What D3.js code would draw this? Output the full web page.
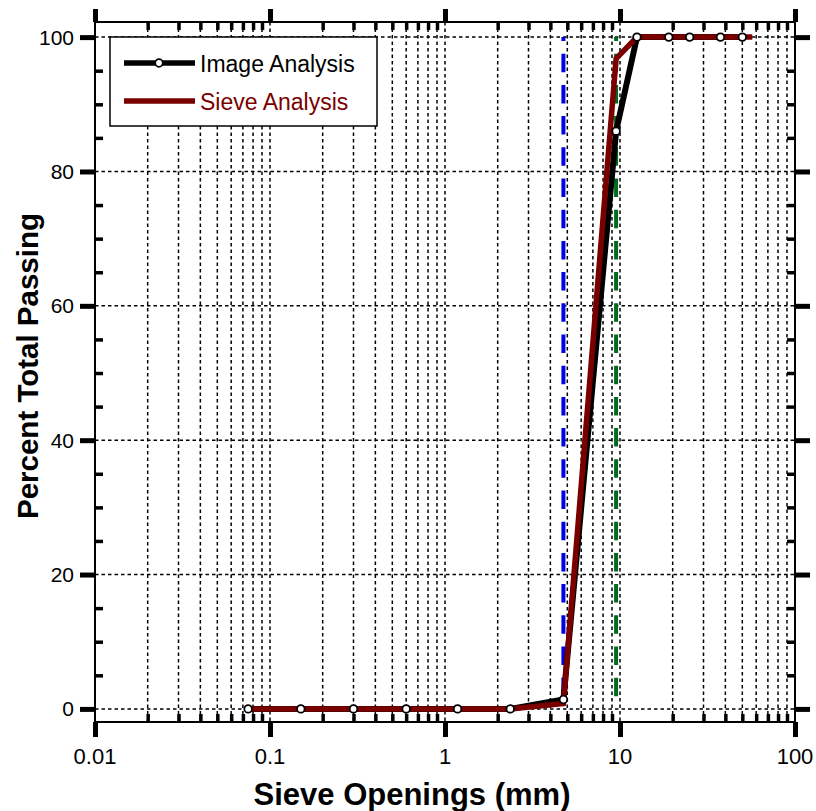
<!DOCTYPE html>
<html>
<head>
<meta charset="utf-8">
<script src="https://cdn.jsdelivr.net/npm/d3@7"></script>
<style>
  html, body { margin: 0; padding: 0; background: #fff; }
  svg { display: block; font-family: "Liberation Sans", Arial, sans-serif; }
</style>
</head>
<body>
<svg id="chart" width="816" height="811"></svg>
<script>
// ---- data ----
const imageSizes   = [0.075, 0.15, 0.3, 0.6, 1.18, 2.36, 4.75, 9.5, 12.5, 19, 25, 37.5, 50];
const imagePassing = [0, 0, 0, 0, 0, 0, 1.4, 86, 100, 100, 100, 100, 100];
const sieveSizes   = [0.075, 0.15, 0.3, 0.6, 1.18, 2.36, 4.75, 9.5, 12.5, 19, 25, 37.5, 50, 57];
const sievePassing = [0, 0, 0, 0, 0, 0, 0.8, 96.8, 100, 100, 100, 100, 100, 100];
const refSizes     = [4.75, 9.5];
const refColors    = ["#0000e6", "#006a1e"];
const xTickValues  = [0.01, 0.1, 1, 10, 100];
const xTickLabels  = ["0.01", "0.1", "1", "10", "100"];
const yTickValues  = [0, 20, 40, 60, 80, 100];
const yTickLabels  = ["0", "20", "40", "60", "80", "100"];
const seriesNames  = ["Image Analysis", "Sieve Analysis"];

// ---- layout ----
const L = 95, R = 795, T = 22, B = 722;
const svg = d3.select("#chart");
const x = d3.scaleLog().domain([0.01, 100]).range([L, R]);
const y = d3.scaleLinear().domain([-1.95, 102.25]).range([B, T]);

const minorX = [];
for (let d = 0.01; d < 100; d *= 10) for (let k = 2; k <= 9; k++) minorX.push(+(d * k).toPrecision(3));
const minorY = d3.range(0, 101, 5).filter(v => v % 20 !== 0);

// grid
const grid = svg.append("g").attr("stroke", "#000").attr("stroke-width", 1.5).attr("stroke-dasharray", "3.5,3");
grid.selectAll("line.v").data(xTickValues.concat(minorX)).join("line")
  .attr("x1", d => x(d)).attr("x2", d => x(d)).attr("y1", T).attr("y2", B);
grid.selectAll("line.h").data(yTickValues).join("line")
  .attr("x1", L).attr("x2", R).attr("y1", d => y(d)).attr("y2", d => y(d));

function styleAxis(g, w) {
  g.select(".domain").remove();
  g.selectAll(".tick line").attr("stroke", "#000").attr("stroke-width", w);
  g.selectAll(".tick text").remove();
}
// major ticks (outward)
svg.append("g").attr("transform", `translate(0,${B})`).call(d3.axisBottom(x).tickValues(xTickValues).tickSize(15)).call(g => styleAxis(g, 5));
svg.append("g").attr("transform", `translate(0,${T})`).call(d3.axisTop(x).tickValues(xTickValues).tickSize(13)).call(g => styleAxis(g, 5));
svg.append("g").attr("transform", `translate(${L},0)`).call(d3.axisLeft(y).tickValues(yTickValues).tickSize(15)).call(g => styleAxis(g, 5));
svg.append("g").attr("transform", `translate(${R},0)`).call(d3.axisRight(y).tickValues(yTickValues).tickSize(15)).call(g => styleAxis(g, 5));
// minor ticks (inward)
svg.append("g").attr("transform", `translate(0,${B})`).call(d3.axisTop(x).tickValues(minorX).tickSize(8)).call(g => styleAxis(g, 3.5));
svg.append("g").attr("transform", `translate(0,${T})`).call(d3.axisBottom(x).tickValues(minorX).tickSize(8)).call(g => styleAxis(g, 3.5));
svg.append("g").attr("transform", `translate(${L},0)`).call(d3.axisRight(y).tickValues(minorY).tickSize(8)).call(g => styleAxis(g, 3.5));
svg.append("g").attr("transform", `translate(${R},0)`).call(d3.axisLeft(y).tickValues(minorY).tickSize(8)).call(g => styleAxis(g, 3.5));

// frame
svg.append("rect").attr("x", L).attr("y", T).attr("width", R - L).attr("height", B - T)
  .attr("fill", "none").attr("stroke", "#000").attr("stroke-width", 2);

// tick labels
svg.append("g").selectAll("text").data(xTickValues).join("text")
  .attr("x", d => x(d)).attr("y", 764).attr("text-anchor", "middle")
  .attr("font-size", 22).text((d, i) => xTickLabels[i]);
svg.append("g").selectAll("text").data(yTickValues).join("text")
  .attr("x", 74).attr("y", d => y(d) + 7.5).attr("text-anchor", "end")
  .attr("font-size", 21).text((d, i) => yTickLabels[i]);

// axis titles
svg.append("text").attr("x", 412).attr("y", 805).attr("text-anchor", "middle")
  .attr("font-size", 31).attr("font-weight", "bold").text("Sieve Openings (mm)");
svg.append("text").attr("transform", `translate(38,366) rotate(-90)`).attr("text-anchor", "middle")
  .attr("font-size", 29.5).attr("font-weight", "bold").text("Percent Total Passing");

// reference dashed lines
svg.append("g").selectAll("line").data(refSizes).join("line")
  .attr("x1", d => x(d)).attr("x2", d => x(d))
  .attr("y1", y(0)).attr("y2", y(100))
  .attr("stroke", (d, i) => refColors[i]).attr("stroke-width", 4)
  .attr("stroke-dasharray", "18.5,12.7").attr("stroke-dashoffset", 18.5);

// series
const imgData = imageSizes.map((s, i) => [s, imagePassing[i]]);
const sieveData = sieveSizes.map((s, i) => [s, sievePassing[i]]);
const line = d3.line().x(d => x(d[0])).y(d => y(d[1]));
svg.append("path").datum(imgData).attr("d", line)
  .attr("fill", "none").attr("stroke", "#000").attr("stroke-width", 6).attr("stroke-linejoin", "miter");
svg.append("path").datum(sieveData).attr("d", line)
  .attr("fill", "none").attr("stroke", "#7a0000").attr("stroke-width", 5.5).attr("stroke-linejoin", "miter");
svg.append("g").selectAll("circle").data(imgData).join("circle")
  .attr("cx", d => x(d[0])).attr("cy", d => y(d[1])).attr("r", 3.8)
  .attr("fill", "#fff").attr("stroke", "#000").attr("stroke-width", 1.8);

// legend
const lg = svg.append("g");
lg.append("rect").attr("x", 110).attr("y", 37).attr("width", 267).attr("height", 89)
  .attr("fill", "#fff").attr("stroke", "#000").attr("stroke-width", 1.5);
const legendColors = ["#000", "#7a0000"];
seriesNames.forEach((name, i) => {
  const yy = 63 + i * 38;
  lg.append("line").attr("x1", 124).attr("x2", 195).attr("y1", yy).attr("y2", yy)
    .attr("stroke", legendColors[i]).attr("stroke-width", 5.5);
  if (i === 0) lg.append("circle").attr("cx", 159).attr("cy", yy).attr("r", 3.8)
    .attr("fill", "#fff").attr("stroke", "#000").attr("stroke-width", 1.8);
  lg.append("text").attr("x", 200).attr("y", yy + 8.5).attr("font-size", 23)
    .attr("fill", legendColors[i]).text(name);
});
</script>
</body>
</html>
